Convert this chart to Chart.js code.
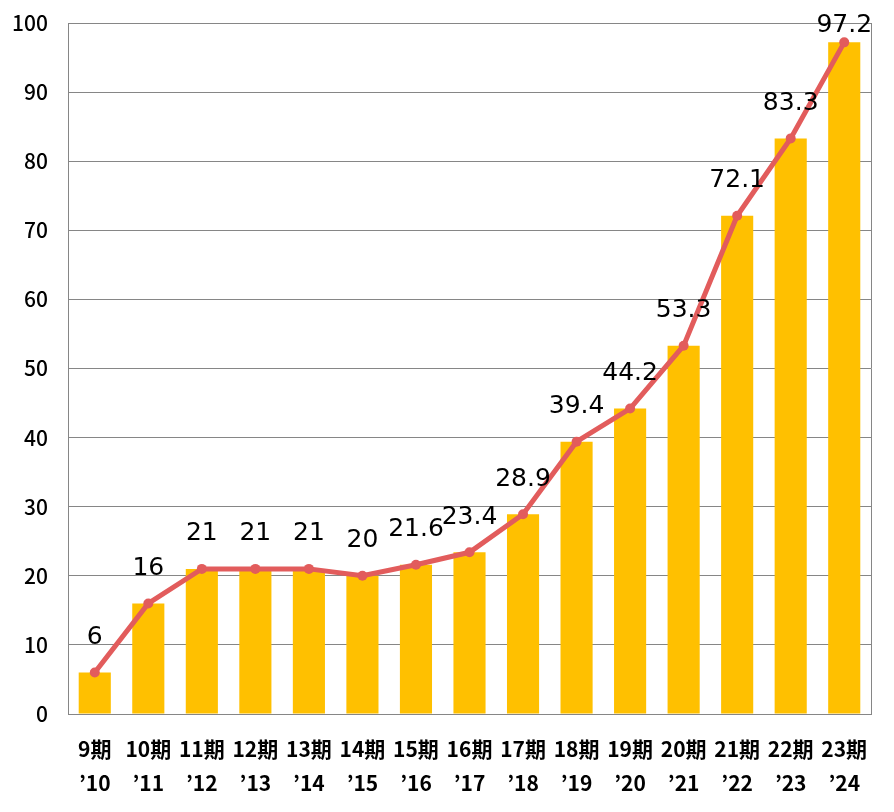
<!DOCTYPE html>
<html lang="ja">
<head>
<meta charset="UTF-8">
<title>推移</title>
<script src="https://cdn.jsdelivr.net/npm/chart.js"></script>
<style>
  html, body { margin: 0; padding: 0; background: #fff; }
  #wrap { width: 894px; height: 812px; }
</style>
</head>
<body>
<div id="wrap"><canvas id="chart" width="894" height="812"></canvas></div>
<script>
// 期と年度
const periods = ['9期', '10期', '11期', '12期', '13期', '14期', '15期', '16期', '17期', '18期', '19期', '20期', '21期', '22期', '23期'];
const years = ['’10', '’11', '’12', '’13', '’14', '’15', '’16', '’17', '’18', '’19', '’20', '’21', '’22', '’23', '’24'];
// 値
const values = [6, 16, 21, 21, 21, 20, 21.6, 23.4, 28.9, 39.4, 44.2, 53.3, 72.1, 83.3, 97.2];
const yTicks = [0, 10, 20, 30, 40, 50, 60, 70, 80, 90, 100];

const labels = periods.map((p, i) => [p, years[i]]);

// 折れ線の点の上に数値を描く
const valueLabels = {
  id: 'valueLabels',
  afterDatasetsDraw(chart) {
    const ctx = chart.ctx;
    const meta = chart.getDatasetMeta(1);
    ctx.save();
    ctx.font = '25px "DejaVu Sans", sans-serif';
    ctx.fillStyle = '#000';
    ctx.textAlign = 'center';
    ctx.textBaseline = 'middle';
    meta.data.forEach((pt, i) => {
      const y = Math.max(pt.y - 35, 25);
      ctx.fillText(String(values[i]), pt.x, y);
    });
    ctx.restore();
  }
};

// 右側の枠線
const rightBorder = {
  id: 'rightBorder',
  beforeDatasetsDraw(chart) {
    const { ctx, chartArea } = chart;
    ctx.save();
    ctx.strokeStyle = '#868686';
    ctx.lineWidth = 1;
    ctx.beginPath();
    ctx.moveTo(Math.round(chartArea.right) + 0.5, chartArea.top);
    ctx.lineTo(Math.round(chartArea.right) + 0.5, chartArea.bottom);
    ctx.stroke();
    ctx.restore();
  }
};

new Chart(document.getElementById('chart'), {
  data: {
    labels: labels,
    datasets: [
      {
        type: 'bar',
        data: values,
        backgroundColor: '#FFC000',
        categoryPercentage: 1,
        barPercentage: 0.6,
        order: 2
      },
      {
        type: 'line',
        data: values,
        borderColor: '#E25C5C',
        backgroundColor: '#E25C5C',
        borderWidth: 5,
        pointRadius: 5,
        pointBackgroundColor: '#E25C5C',
        pointBorderWidth: 0,
        tension: 0,
        order: 1
      }
    ]
  },
  options: {
    responsive: false,
    animation: false,
    layout: { padding: { top: 23, right: 23, left: 0, bottom: 0 } },
    plugins: {
      legend: { display: false },
      tooltip: { enabled: false }
    },
    scales: {
      x: {
        grid: { display: false },
        border: { display: true, color: '#868686' },
        ticks: {
          color: '#000',
          padding: 10,
          maxRotation: 0,
          autoSkip: false,
          font: { family: '"Noto Sans CJK JP", sans-serif', size: 21, weight: 'bold', lineHeight: 1.62 }
        },
        afterFit(scale) {
          scale.height = 98;
          scale.paddingLeft = 0;
          scale.paddingRight = 0;
          scale.paddingTop = 0;
          scale.paddingBottom = 0;
        }
      },
      y: {
        min: 0,
        max: 100,
        afterBuildTicks(scale) { scale.ticks = yTicks.map(v => ({ value: v })); },
        grid: { color: '#868686', lineWidth: 1, drawTicks: false },
        border: { display: true, color: '#868686' },
        ticks: {
          color: '#000',
          padding: 20,
          font: { family: '"Noto Sans CJK JP", sans-serif', size: 21, weight: '500' }
        },
        afterFit(scale) {
          scale.width = 68;
          scale.paddingTop = 0;
          scale.paddingBottom = 0;
        }
      }
    }
  },
  plugins: [valueLabels, rightBorder]
});
</script>
</body>
</html>
